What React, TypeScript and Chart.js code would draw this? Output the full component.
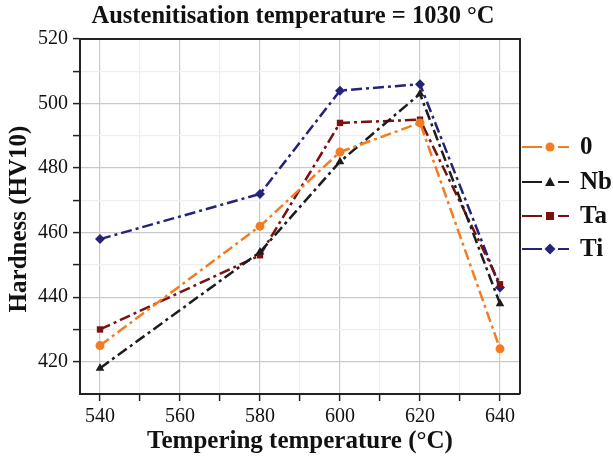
import React, { useEffect, useRef } from "react";
import { Chart, registerables } from "chart.js";

Chart.register(...registerables);

const temperatures = [540, 580, 600, 620, 640];
const series0 = [425, 462, 485, 494, 424];
const seriesNb = [418, 454, 482, 503, 438];
const seriesTa = [430, 453, 494, 495, 444];
const seriesTi = [458, 472, 504, 506, 443];
const seriesLabels = ["0", "Nb", "Ta", "Ti"];
const xTicks = [540, 550, 560, 570, 580, 590, 600, 610, 620, 630, 640];
const yTicks = [420, 430, 440, 450, 460, 470, 480, 490, 500, 510, 520];

const chartTitle = "Austenitisation temperature = 1030 °C";
const xTitle = "Tempering temperature (°C)";
const yTitle = "Hardness (HV10)";

const SERIF = "'Liberation Serif', 'DejaVu Serif', serif";

const colors = ["#f47c20", "#1c1c1c", "#7a1010", "#24237a"];
const pointStyles = ["circle", "triangle", "rect", "rectRot"];
const radii = [4.5, 5, 4.5, 5];

export default function App() {
  const canvasRef = useRef<HTMLCanvasElement | null>(null);

  useEffect(() => {
    document.body.style.margin = "0";
    const canvas = canvasRef.current;
    if (!canvas) return;
    const all = [series0, seriesNb, seriesTa, seriesTi];

    const decor = {
      id: "decor",
      afterDraw(chart: any) {
        const { ctx, chartArea } = chart;
        const { left, right, top, bottom } = chartArea;
        ctx.save();
        ctx.strokeStyle = "#222";
        ctx.lineWidth = 2;
        ctx.beginPath();
        ctx.moveTo(left, top);
        ctx.lineTo(right, top);
        ctx.lineTo(right, bottom);
        ctx.stroke();
        ctx.fillStyle = "#111";
        ctx.textAlign = "center";
        ctx.textBaseline = "middle";
        ctx.font = `bold 24.5px ${SERIF}`;
        ctx.fillText(chartTitle, 293, 17);
        ctx.font = `bold 25px ${SERIF}`;
        ctx.fillText(xTitle, (left + right) / 2, 442);
        ctx.save();
        ctx.translate(20, 219);
        ctx.rotate(-Math.PI / 2);
        ctx.fillText(yTitle, 0, 0);
        ctx.restore();
        const rows = [147, 182, 216, 249];
        chart.data.datasets.forEach((ds: any, i: number) => {
          const y = rows[i];
          ctx.strokeStyle = ds.borderColor;
          ctx.lineWidth = 2;
          ctx.setLineDash([]);
          ctx.beginPath();
          ctx.moveTo(522, y);
          ctx.lineTo(542, y);
          ctx.moveTo(558, y);
          ctx.lineTo(569, y);
          ctx.stroke();
          ctx.fillStyle = ds.borderColor;
          ctx.beginPath();
          const s = ds.pointStyle;
          if (s === "circle") {
            ctx.arc(550, y, 4.5, 0, Math.PI * 2);
          } else if (s === "triangle") {
            ctx.moveTo(550, y - 5);
            ctx.lineTo(555, y + 4);
            ctx.lineTo(545, y + 4);
            ctx.closePath();
          } else if (s === "rect") {
            ctx.rect(546, y - 4, 8, 8);
          } else {
            ctx.moveTo(550, y - 5.5);
            ctx.lineTo(555.5, y);
            ctx.lineTo(550, y + 5.5);
            ctx.lineTo(544.5, y);
            ctx.closePath();
          }
          ctx.fill();
          ctx.fillStyle = "#111";
          ctx.textAlign = "left";
          ctx.font = `bold 25px ${SERIF}`;
          ctx.fillText(ds.label, 580, y + 1);
        });
        ctx.restore();
      },
    };

    const gridColor = (c: any) =>
      c.tick && c.tick.value % 20 === 0 ? "#c9c9c9" : "#eeeeee";

    const chart = new Chart(canvas, {
      type: "line",
      data: {
        datasets: all.map((vals, i) => ({
          label: seriesLabels[i],
          data: temperatures.map((t, j) => ({ x: t, y: vals[j] })),
          borderColor: colors[i],
          backgroundColor: colors[i],
          borderWidth: 2.5,
          borderDash: [11, 4, 3, 4],
          pointStyle: pointStyles[i] as any,
          pointRadius: radii[i],
          pointBorderWidth: 0,
          pointBackgroundColor: colors[i],
          tension: 0,
          fill: false,
        })),
      },
      options: {
        responsive: false,
        animation: false,
        layout: { padding: { top: 39, right: 93, left: 0, bottom: 0 } },
        plugins: {
          legend: { display: false },
          tooltip: { enabled: false },
          title: { display: false },
        },
        scales: {
          x: {
            type: "linear",
            min: 535,
            max: 645,
            afterBuildTicks: (scale: any) => {
              scale.ticks = xTicks.map((v) => ({ value: v }));
            },
            afterFit: (scale: any) => {
              scale.height = 70;
            },
            ticks: {
              autoSkip: false,
              maxRotation: 0,
              padding: 4,
              color: "#111",
              font: { family: SERIF, size: 20 },
              callback: (v: any) => (Number(v) % 20 === 0 ? String(v) : ""),
            },
            grid: {
              color: gridColor,
              tickColor: "#222",
              tickLength: 7,
              tickWidth: 1.5,
              lineWidth: 1.2,
            },
            border: { color: "#222", width: 2 },
          },
          y: {
            type: "linear",
            min: 410,
            max: 520,
            afterBuildTicks: (scale: any) => {
              scale.ticks = yTicks.map((v) => ({ value: v }));
            },
            afterFit: (scale: any) => {
              scale.width = 80;
            },
            ticks: {
              autoSkip: false,
              padding: 5,
              color: "#111",
              font: { family: SERIF, size: 20 },
              callback: (v: any) => (Number(v) % 20 === 0 ? String(v) : ""),
            },
            grid: {
              color: gridColor,
              tickColor: "#222",
              tickLength: 7,
              tickWidth: 1.5,
              lineWidth: 1.2,
            },
            border: { color: "#222", width: 2 },
          },
        },
      },
      plugins: [decor],
    });
    return () => chart.destroy();
  }, []);

  return (
    <div style={{ width: 613, height: 464, background: "#fff" }}>
      <canvas ref={canvasRef} width={613} height={464} />
    </div>
  );
}
